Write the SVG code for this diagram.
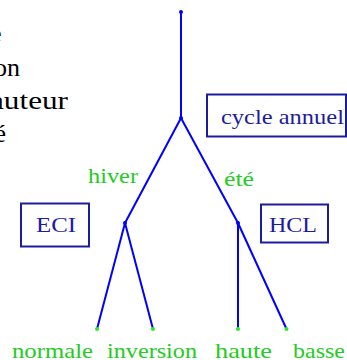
<svg xmlns="http://www.w3.org/2000/svg" width="347" height="360" viewBox="0 0 347 360">
<style>
.edge{stroke:#0000ff;stroke-width:2;fill:none}
.box{fill:#fff;stroke:#1c1ca0;stroke-width:2}
.bt{font-family:"Liberation Serif",serif;font-size:21px;fill:#1c1ca0}
.gt{font-family:"Liberation Serif",serif;font-size:21px;fill:#22cc22}
.lt{font-family:"Liberation Serif",serif;font-size:26px;fill:#000}
.nd{fill:#0000ff}
.lf{fill:#22ee22}
</style>
<rect width="347" height="360" fill="#fff"/>
<g id="sidetext">
<text class="lt" x="1.5" y="42" text-anchor="end">e</text>
<text class="lt" x="20" y="76" text-anchor="end">inversion</text>
<text class="lt" x="-25.6" y="109" textLength="93.6" lengthAdjust="spacingAndGlyphs">hauteur</text>
<text class="lt" x="6" y="142" text-anchor="end">été</text>
</g>
<g id="connectors">
<line class="edge" x1="181" y1="12" x2="181" y2="118"/>
<line class="edge" x1="181" y1="118" x2="125" y2="223"/>
<line class="edge" x1="181" y1="118" x2="238" y2="223"/>
<line class="edge" x1="125" y1="223" x2="97" y2="329"/>
<line class="edge" x1="125" y1="223" x2="153" y2="329"/>
<line class="edge" x1="238" y1="223" x2="238" y2="329"/>
<line class="edge" x1="238" y1="223" x2="286.5" y2="329"/>
</g>
<g id="root"><circle class="nd" cx="181" cy="12" r="2"/></g>
<g id="n_cycle"><circle class="nd" cx="181" cy="118" r="2"/>
<rect class="box" x="207" y="94.5" width="139" height="42"/>
<text class="bt" x="221" y="124" textLength="123" lengthAdjust="spacingAndGlyphs">cycle annuel</text></g>
<g id="n_hiver"><circle class="nd" cx="125" cy="223" r="2"/>
<text class="gt" x="88" y="183" textLength="50" lengthAdjust="spacingAndGlyphs">hiver</text>
<rect class="box" x="21" y="203.5" width="68" height="43"/>
<text class="bt" x="36" y="232" textLength="40" lengthAdjust="spacingAndGlyphs">ECI</text></g>
<g id="n_ete"><circle class="nd" cx="238" cy="223" r="2"/>
<text class="gt" x="224" y="186" textLength="30" lengthAdjust="spacingAndGlyphs">été</text>
<rect class="box" x="261" y="204.5" width="67" height="38"/>
<text class="bt" x="269" y="232" textLength="48" lengthAdjust="spacingAndGlyphs">HCL</text></g>
<g id="l_normale"><circle class="lf" cx="97" cy="329" r="2"/>
<text class="gt" x="12" y="358" textLength="81" lengthAdjust="spacingAndGlyphs">normale</text></g>
<g id="l_inversion"><circle class="lf" cx="153" cy="329" r="2"/>
<text class="gt" x="107" y="358" textLength="90" lengthAdjust="spacingAndGlyphs">inversion</text></g>
<g id="l_haute"><circle class="lf" cx="238" cy="329" r="2"/>
<text class="gt" x="215" y="358" textLength="57" lengthAdjust="spacingAndGlyphs">haute</text></g>
<g id="l_basse"><circle class="lf" cx="286.5" cy="329" r="2"/>
<text class="gt" x="293" y="358" textLength="52" lengthAdjust="spacingAndGlyphs">basse</text></g>
</svg>
